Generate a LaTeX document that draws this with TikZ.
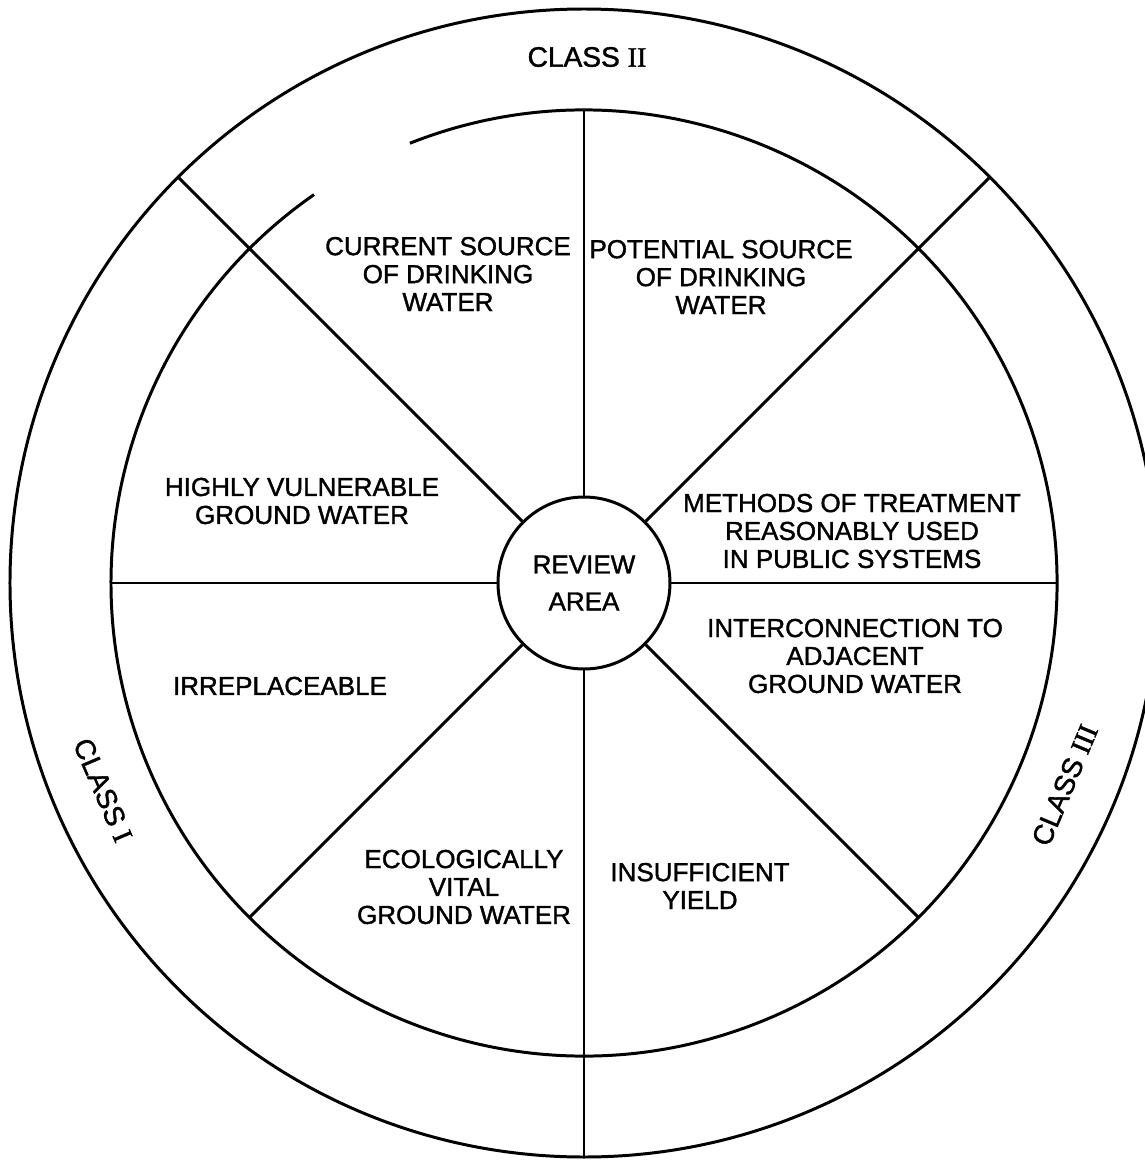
\documentclass[tikz,border=0pt]{standalone}
\usepackage{fontspec}
\setmainfont{Liberation Sans}[BoldFont=Liberation Sans, BoldFeatures={FakeBold=1.4}]
\newfontfamily\numfont{Liberation Serif}[BoldFont=Liberation Serif, BoldFeatures={FakeBold=1.6}]

\begin{document}
\begin{tikzpicture}[
  hub/.style = {draw, circle, line width=1.7pt, minimum size=3.44cm, inner sep=0pt, align=center, font=\fontsize{14.8}{21}\selectfont\bfseries},
  sector/.style = {align=center, font=\fontsize{14.8}{15.9}\selectfont\bfseries},
  classtxt/.style = {font=\fontsize{16}{18}\selectfont\bfseries},
  rim/.style = {line width=1.7pt},
  spoke/.style = {line width=1.7pt}
]
  \def\rin{9.46}
  \def\rout{11.48}

  % Page frame
  \clip (-11.68,-11.54) rectangle (11.22,11.66);

  % Rings
  \draw[rim] (0,0) circle[radius=\rout];
  \draw[rim] (111.6:\rin) arc[start angle=111.6, end angle=-235.2, radius=\rin];

  % Centre
  \node[hub] (review) at (0,0) {REVIEW\\AREA};

  % Spokes
  \foreach \ang in {0,45,...,315} \coordinate (in\ang) at (\ang:\rin);
  \foreach \ang in {45,135,270} \coordinate (out\ang) at (\ang:\rout);
  \foreach \ang in {0,90,180,225,315} \draw[spoke] (review.\ang) -- (in\ang);
  \foreach \ang in {45,135,270} \draw[spoke] (review.\ang) -- (out\ang);

  % Sector texts
  \node[sector] (current) at (-2.72,6.18) {CURRENT SOURCE\\OF DRINKING\\WATER};
  \node[sector] (potential) at (2.74,6.12) {POTENTIAL SOURCE\\OF DRINKING\\WATER};
  \node[sector] (vulnerable) at (-5.64,1.64) {HIGHLY VULNERABLE\\GROUND WATER};
  \node[sector] (treatment) at (5.36,1.04) {METHODS OF TREATMENT\\REASONABLY USED\\IN PUBLIC SYSTEMS};
  \node[sector] (interconn) at (5.42,-1.46) {INTERCONNECTION TO\\ADJACENT\\GROUND WATER};
  \node[sector] (irreplace) at (-6.08,-2.06) {IRREPLACEABLE};
  \node[sector] (ecological) at (-2.40,-6.08) {ECOLOGICALLY\\VITAL\\GROUND WATER};
  \node[sector] (yield) at (2.32,-6.06) {INSUFFICIENT\\YIELD};

  % Class labels
  \node[classtxt] (classtwo) at (0.06,10.52) {CLASS {\numfont II}};
  \node[classtxt, rotate=-66.7] (classone) at (203.3:10.47) {CLASS {\numfont I}};
  \node[classtxt, rotate=67.2] (classthree) at (-22.8:10.43) {CLASS {\numfont III}};
\end{tikzpicture}
\end{document}
